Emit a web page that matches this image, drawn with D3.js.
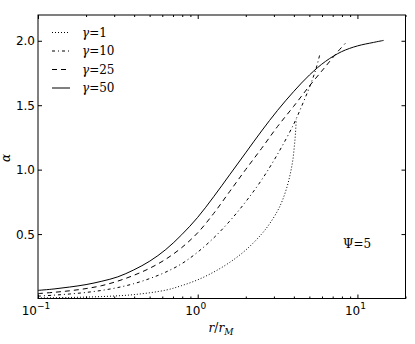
<!DOCTYPE html>
<html lang="en">
<head>
<meta charset="UTF-8">
<title>alpha vs r/rM</title>
<script src="https://d3js.org/d3.v7.min.js"></script>
<style>
  body { margin: 0; background: #fff; }
  svg { display: block; }
  .tick text { display: none; }
  .lbl { font-family: "DejaVu Sans", sans-serif; font-size: 12px; fill: #000; }
  .math { font-family: "DejaVu Serif", "Liberation Serif", serif; font-size: 12px; fill: #000; }
</style>
</head>
<body>
<div id="chart"></div>
<script>
// data
const legendLabels = ["1", "10", "25", "50"];

const r1  = [0.1, 0.158, 0.251, 0.398, 0.631, 0.794, 1.0, 1.259, 1.585, 1.995, 2.512, 2.818, 3.162, 3.388, 3.631, 3.802, 3.936, 4.027, 4.093, 4.14];
const a1  = [0.004, 0.008, 0.015, 0.03, 0.065, 0.10, 0.145, 0.205, 0.28, 0.375, 0.50, 0.58, 0.68, 0.76, 0.87, 0.97, 1.07, 1.18, 1.28, 1.39];

const r10 = [0.1, 0.126, 0.158, 0.2, 0.251, 0.316, 0.398, 0.501, 0.631, 0.794, 1.0, 1.259, 1.585, 1.995, 2.512, 3.162, 3.981, 4.467, 5.012, 5.495, 5.85];
const a10 = [0.018, 0.026, 0.035, 0.047, 0.063, 0.085, 0.115, 0.155, 0.205, 0.27, 0.36, 0.47, 0.60, 0.75, 0.92, 1.12, 1.35, 1.49, 1.64, 1.78, 1.907];

const r25 = [0.1, 0.126, 0.158, 0.2, 0.251, 0.316, 0.398, 0.501, 0.631, 0.794, 1.0, 1.259, 1.585, 1.995, 2.512, 3.162, 3.981, 5.012, 6.31, 7.586, 8.4];
const a25 = [0.038, 0.048, 0.06, 0.077, 0.10, 0.135, 0.18, 0.235, 0.305, 0.395, 0.51, 0.66, 0.83, 1.0, 1.165, 1.335, 1.49, 1.65, 1.80, 1.92, 1.98];

const r50 = [0.1, 0.126, 0.158, 0.2, 0.251, 0.316, 0.398, 0.501, 0.631, 0.794, 1.0, 1.259, 1.585, 1.995, 2.512, 3.162, 3.981, 5.012, 6.31, 7.943, 10.0, 12.59, 14.6];
const a50 = [0.063, 0.074, 0.089, 0.108, 0.134, 0.168, 0.222, 0.29, 0.38, 0.495, 0.63, 0.79, 0.96, 1.13, 1.30, 1.46, 1.605, 1.735, 1.84, 1.915, 1.96, 1.987, 2.003];

const yTicks = [0.5, 1.0, 1.5, 2.0];
const xMajor = [0.1, 1, 10];

const series = [
  { r: r1,  a: a1,  dash: "1,2" },
  { r: r10, a: a10, dash: "3,3,1,3" },
  { r: r25, a: a25, dash: "5,4" },
  { r: r50, a: a50, dash: null }
];

const W = 415, H = 344;
const svg = d3.select("#chart").append("svg").attr("width", W).attr("height", H);

const x = d3.scaleLog().domain([0.1, 20]).range([38, 405.5]);
const y = d3.scaleLinear().domain([0, 2.2]).range([298.5, 15]);

// minor ticks on log axis
const xMinor = [];
[0.1, 1, 10].forEach(d => { for (let k = 2; k <= 9; k++) if (d * k <= 20) xMinor.push(d * k); });

// axes: ticks drawn inward
svg.append("g").attr("transform", `translate(0,${y.range()[0]})`)
  .call(d3.axisBottom(x).tickValues(xMajor).tickSizeInner(-4).tickSizeOuter(0))
  .call(g => g.select(".domain").remove());
svg.append("g").attr("transform", `translate(0,${y.range()[0]})`)
  .call(d3.axisBottom(x).tickValues(xMinor).tickSizeInner(-2).tickSizeOuter(0))
  .call(g => g.select(".domain").remove());
svg.append("g").attr("transform", `translate(0,${y.range()[1]})`)
  .call(d3.axisTop(x).tickValues(xMajor).tickSizeInner(-4).tickSizeOuter(0))
  .call(g => g.select(".domain").remove());
svg.append("g").attr("transform", `translate(0,${y.range()[1]})`)
  .call(d3.axisTop(x).tickValues(xMinor).tickSizeInner(-2).tickSizeOuter(0))
  .call(g => g.select(".domain").remove());
svg.append("g").attr("transform", `translate(${x.range()[0]},0)`)
  .call(d3.axisLeft(y).tickValues(yTicks).tickSizeInner(-4).tickSizeOuter(0))
  .call(g => g.select(".domain").remove());
svg.append("g").attr("transform", `translate(${x.range()[1]},0)`)
  .call(d3.axisRight(y).tickValues(yTicks).tickSizeInner(-4).tickSizeOuter(0))
  .call(g => g.select(".domain").remove());

// frame
svg.append("rect")
  .attr("x", x.range()[0]).attr("y", y.range()[1])
  .attr("width", x.range()[1] - x.range()[0])
  .attr("height", y.range()[0] - y.range()[1])
  .attr("fill", "none").attr("stroke", "#000").attr("stroke-width", 1);

// y tick labels
svg.selectAll(".ylab").data(yTicks).enter().append("text")
  .attr("class", "lbl")
  .attr("x", 35).attr("y", d => y(d) + 4.5)
  .attr("text-anchor", "end")
  .text(d => d.toFixed(1));

// x tick labels 10^n
const xl = svg.selectAll(".xlab").data(xMajor).enter().append("text")
  .attr("class", "lbl")
  .attr("x", d => x(d) - 2).attr("y", 315)
  .attr("text-anchor", "middle");
xl.append("tspan").text("10");
xl.append("tspan").attr("dy", -6).attr("font-size", "9px")
  .text(d => String(Math.round(Math.log10(d))).replace("-", "\u2212"));

// axis labels
const xt = svg.append("text").attr("class", "math")
  .attr("x", 221).attr("y", 332).attr("text-anchor", "middle").attr("font-size", "13px");
xt.append("tspan").attr("font-style", "italic").text("r");
xt.append("tspan").text("/");
xt.append("tspan").attr("font-style", "italic").text("r");
xt.append("tspan").attr("font-style", "italic").attr("font-size", "9px").attr("dy", 3).text("M");

svg.append("text").attr("class", "math")
  .attr("transform", "translate(10,158) rotate(-90)")
  .attr("text-anchor", "middle").attr("font-style", "italic").attr("font-size", "13px")
  .text("α");

// curves
const line = d3.line().x(d => x(d[0])).y(d => y(d[1])).curve(d3.curveCatmullRom.alpha(0.5));
series.forEach(s => {
  svg.append("path")
    .datum(s.r.map((v, i) => [v, s.a[i]]))
    .attr("d", line)
    .attr("fill", "none")
    .attr("stroke", "#000")
    .attr("stroke-width", 1)
    .attr("stroke-dasharray", s.dash);
});

// legend
const leg = svg.append("g");
series.forEach((s, i) => {
  const yy = 32.5 + i * 18.5;
  leg.append("line").attr("x1", 52).attr("x2", 70).attr("y1", yy).attr("y2", yy)
    .attr("stroke", "#000").attr("stroke-width", 1).attr("stroke-dasharray", s.dash);
  const t = leg.append("text").attr("class", "math").attr("x", 82).attr("y", yy + 4);
  t.append("tspan").attr("font-style", "italic").text("γ");
  t.append("tspan").text("=" + legendLabels[i]);
});

// annotation
const ann = svg.append("text").attr("class", "math").attr("x", 343).attr("y", 248);
ann.append("tspan").text("Ψ");
ann.append("tspan").text("=5");
</script>
</body>
</html>
